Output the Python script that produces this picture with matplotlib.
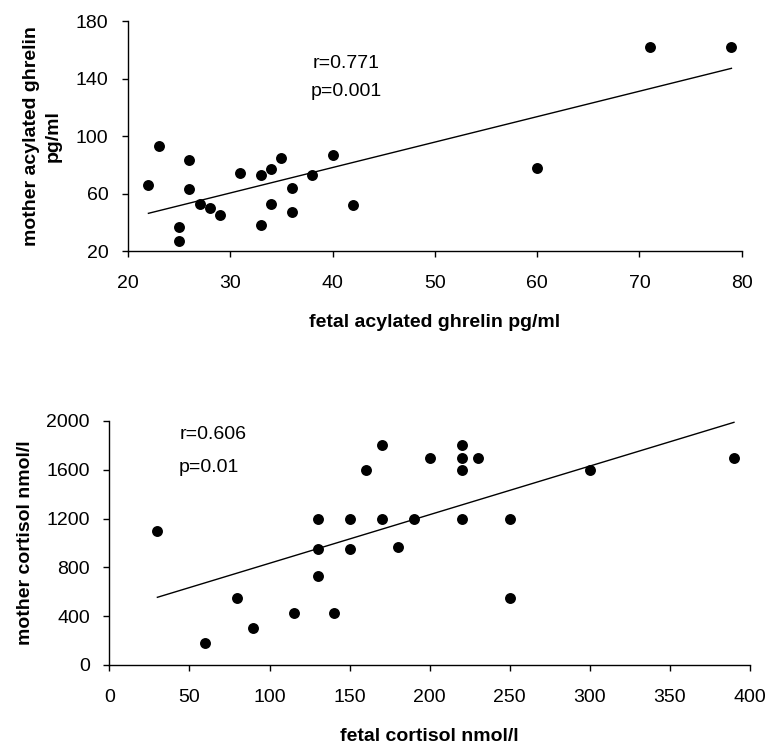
import numpy as np
import matplotlib
matplotlib.use("Agg")
import matplotlib.pyplot as plt

plt.rcParams['font.family'] = ['Liberation Sans', 'DejaVu Sans']

# Panel 1: acylated ghrelin
ghrelin_fetal = [22, 23, 25, 25, 26, 26, 27, 28, 29, 31, 33, 33, 34, 34, 35, 36, 36, 38, 40, 42, 60, 71, 79]
ghrelin_mother = [66, 93, 37, 27, 83, 63, 53, 50, 45, 74, 73, 38, 77, 53, 85, 64, 47, 73, 87, 52, 78, 162, 162]
ghrelin_stats = ["r=0.771", "p=0.001"]
ghrelin_xticks = [20, 30, 40, 50, 60, 70, 80]
ghrelin_yticks = [20, 60, 100, 140, 180]

# Panel 2: cortisol
cortisol_fetal = [30, 60, 80, 90, 115, 130, 130, 130, 140, 150, 150, 160, 170, 170, 180, 190, 200,
                  220, 220, 220, 220, 230, 250, 250, 300, 390]
cortisol_mother = [1100, 180, 550, 300, 430, 1200, 950, 730, 430, 1200, 950, 1600, 1800, 1200, 970, 1200, 1700,
                   1800, 1700, 1600, 1200, 1700, 1200, 550, 1600, 1700]
cortisol_stats = ["r=0.606", "p=0.01"]
cortisol_xticks = [0, 50, 100, 150, 200, 250, 300, 350, 400]
cortisol_yticks = [0, 400, 800, 1200, 1600, 2000]

fig = plt.figure(figsize=(7.7, 7.44), dpi=100)
ax1 = fig.add_axes([0.1662, 0.6626, 0.797, 0.3091])
ax2 = fig.add_axes([0.142, 0.1062, 0.832, 0.3280])

TICK_FS = 14
LAB_FS = 14


def style(ax):
    for s in ['top', 'right']:
        ax.spines[s].set_visible(False)
    for s in ['left', 'bottom']:
        ax.spines[s].set_linewidth(1.0)
    ax.tick_params(direction='out', length=4.5, width=1.0, labelsize=TICK_FS)
    ax.tick_params(axis='x', pad=13)
    ax.tick_params(axis='y', pad=9.5)


def panel(ax, x, y, xticks, yticks, stats, stat_pos, xlabel, ylabel):
    x = np.asarray(x, float)
    y = np.asarray(y, float)
    ax.scatter(x, y, s=62, color='black', zorder=3, linewidths=0)
    k, b = np.polyfit(x, y, 1)
    xs = np.array([x.min(), x.max()])
    ax.plot(xs, k * xs + b, color='black', lw=1.0)
    ax.set_xlim(xticks[0], xticks[-1])
    ax.set_ylim(yticks[0], yticks[-1])
    ax.set_xticks(xticks)
    ax.set_yticks(yticks)
    ax.set_xlabel(xlabel, fontsize=LAB_FS, fontweight='bold')
    ax.set_ylabel(ylabel, fontsize=LAB_FS, fontweight='bold', linespacing=1.35)
    style(ax)
    sx, ys, ha = stat_pos
    for s, sy in zip(stats, ys):
        ax.text(sx, sy, s, fontsize=TICK_FS, ha=ha, va='center')


panel(ax1, ghrelin_fetal, ghrelin_mother, ghrelin_xticks, ghrelin_yticks, ghrelin_stats,
      (41.3, (150.6, 131.0), 'center'), "fetal acylated ghrelin pg/ml", "mother acylated ghrelin\npg/ml")
panel(ax2, cortisol_fetal, cortisol_mother, cortisol_xticks, cortisol_yticks, cortisol_stats,
      (43.6, (1885, 1615), 'left'), "fetal cortisol nmol/l", "mother cortisol nmol/l")

ax1.xaxis.set_label_coords(0.5, -0.274)
ax1.yaxis.set_label_coords(-0.1075, 0.5)
ax2.xaxis.set_label_coords(0.5, -0.258)
ax2.yaxis.set_label_coords(-0.1175, 0.5)

fig.savefig("out.png", dpi=100)
